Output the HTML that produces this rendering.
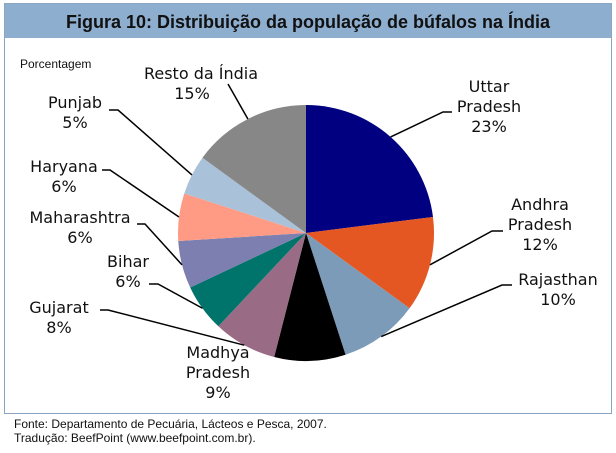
<!DOCTYPE html>
<html><head><meta charset="utf-8"><style>
body{margin:0;background:#fff;}
svg{display:block;font-family:"DejaVu Sans","Liberation Sans",sans-serif;}
</style></head><body>
<svg width="616" height="453">
<rect x="4.5" y="3.5" width="607" height="410" fill="#fff" stroke="#8aa6c4"/>
<rect x="5" y="4" width="606" height="34" fill="#8eaed0"/>
<text x="308" y="28" text-anchor="middle" font-family="Liberation Sans, sans-serif" font-weight="bold" font-size="18" fill="#111">Figura 10: Distribuição da população de búfalos na Índia</text>
<text x="20" y="68" font-family="Liberation Sans, sans-serif" font-size="12" fill="#111">Porcentagem</text>
<g id="slices"></g>
<g id="labels" font-size="16" fill="#111"></g>
<text x="14" y="428" font-family="Liberation Sans, sans-serif" font-size="12" fill="#111">Fonte: Departamento de Pecuária, Lácteos e Pesca, 2007.</text>
<text x="14" y="442" font-family="Liberation Sans, sans-serif" font-size="12" fill="#111">Tradução: BeefPoint (www.beefpoint.com.br).</text>
</svg>
<script>
const categories=["Uttar Pradesh","Andhra Pradesh","Rajasthan","Madhya Pradesh","Gujarat","Bihar","Maharashtra","Haryana","Punjab","Resto da Índia"];
const values=[23,12,10,9,8,6,6,6,5,15];
const colors=["#000080","#e45722","#7b9bb8","#000000","#996b85","#00736b","#7c7fb0","#ff9b85","#a9c1d9","#878787"];
const labelLines=[["Uttar","Pradesh","23%"],["Andhra","Pradesh","12%"],["Rajasthan","10%"],["Madhya","Pradesh","9%"],["Gujarat","8%"],["Bihar","6%"],["Maharashtra","6%"],["Haryana","6%"],["Punjab","5%"],["Resto da Índia","15%"]];
const labelPos=[[489,92],[540,210],[558,285],[218,358],[59,313],[128,267],[80,223],[64,172],[75,108],[192,79]];
const leaderKnee=[[452,443,112],[503,492,231],[512,502,285],null,[100,108,310],[149,158,284],[137,145,224],[102,110,170],[109,118,110],null];
const cx=306,cy=233,r=128,ns="http://www.w3.org/2000/svg";
const total=values.reduce((a,b)=>a+b,0);
const gS=document.getElementById('slices'),gL=document.getElementById('labels');
function pt(a,rr){return [cx+rr*Math.sin(a),cy-rr*Math.cos(a)];}
let acc=0;
values.forEach((v,i)=>{
  const a0=acc/total*2*Math.PI;acc+=v;const a1=acc/total*2*Math.PI;
  const p0=pt(a0,r),p1=pt(a1,r);
  const p=document.createElementNS(ns,'path');
  p.setAttribute('d',`M${cx},${cy}L${p0[0]},${p0[1]}A${r},${r} 0 ${a1-a0>Math.PI?1:0} 1 ${p1[0]},${p1[1]}Z`);
  p.setAttribute('fill',colors[i]);
  
  
  gS.appendChild(p);
  const am=(a0+a1)/2,q=pt(am,r);
  const k=leaderKnee[i];
  let d=null;
  if(k){d=`M${k[0]},${k[2]}L${k[1]},${k[2]}L${q[0]},${q[1]}`;}
  else if(categories[i]==="Resto da Índia"){d=`M228,84L${q[0]},${q[1]}`;}
  if(d){
    const l=document.createElementNS(ns,'path');
    l.setAttribute('d',d);l.setAttribute('fill','none');
    l.setAttribute('stroke','#000');l.setAttribute('stroke-width','1.5');
    
    
    gL.appendChild(l);
  }
  const t=document.createElementNS(ns,'text');
  const lp=labelPos[i];
  t.setAttribute('text-anchor','middle');
  
  
  labelLines[i].forEach((s,j)=>{const ts=document.createElementNS(ns,'tspan');ts.setAttribute('x',(i===9&&j===0)?201:lp[0]);ts.setAttribute('y',lp[1]+j*20);ts.textContent=s;t.appendChild(ts);});
  gL.appendChild(t);
});
</script>
</body></html>
